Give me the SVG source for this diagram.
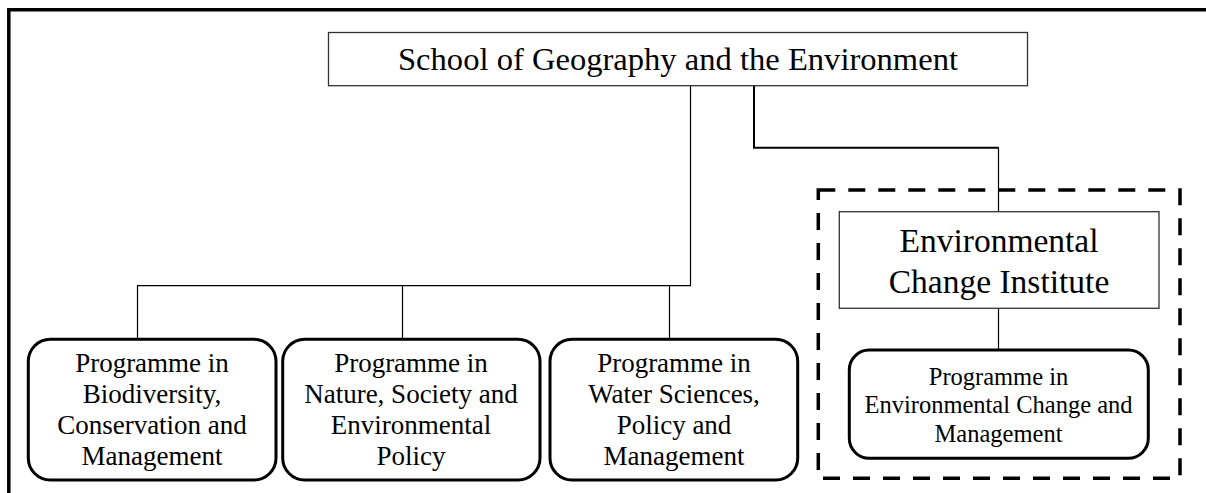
<svg xmlns="http://www.w3.org/2000/svg" width="1206" height="493" viewBox="0 0 1206 493">
<style>
text{font-family:"Liberation Serif","Times New Roman",serif;fill:#000;text-anchor:middle}
.sq{fill:#fff;stroke:#333;stroke-width:1.3}
.rd{fill:#fff;stroke:#000;stroke-width:3}
.ln{fill:none;stroke:#000;stroke-width:1.2}
.prog{font-size:27px}
</style>
<rect width="1206" height="493" fill="#fff"/>
<path d="M8.8 493V9.7H1206" fill="none" stroke="#000" stroke-width="3.5"/>
<g id="connectors">
<path class="ln" d="M690.5 86V285.7H137.5V339M402.5 285.7V339M669.5 285.7V339"/>
<path fill="none" stroke="#000" stroke-width="2" d="M754 86V147.7H998.7"/>
<path class="ln" d="M998.5 147.7V211.7M998.5 308.3V350"/>
</g>
<g id="eci-group">
<rect x="818.3" y="190" width="361.7" height="288.3" fill="none" stroke="#000" stroke-width="3.5" stroke-dasharray="17 13"/>
</g>
<g id="school">
<rect class="sq" x="328.5" y="32.5" width="699" height="53.2"/>
<text x="678" y="70" font-size="32.5" textLength="560" lengthAdjust="spacingAndGlyphs">School of Geography and the Environment</text>
</g>
<g id="eci">
<rect class="sq" x="839.3" y="211.7" width="319.7" height="96.6"/>
<text x="999" y="251.7" font-size="33.5">Environmental</text>
<text x="999" y="292.7" font-size="33.5">Change Institute</text>
</g>
<g id="p1">
<rect class="rd" x="28.3" y="339.3" width="247.7" height="140.7" rx="22"/>
<text class="prog" x="152" y="371.5">Programme in</text>
<text class="prog" x="152" y="402.5">Biodiversity,</text>
<text class="prog" x="152" y="434">Conservation and</text>
<text class="prog" x="152" y="465">Management</text>
</g>
<g id="p2">
<rect class="rd" x="282.7" y="339.3" width="257.3" height="140.7" rx="22"/>
<text class="prog" x="411" y="371.5">Programme in</text>
<text class="prog" x="411" y="402.5">Nature, Society and</text>
<text class="prog" x="411" y="434">Environmental</text>
<text class="prog" x="411" y="465">Policy</text>
</g>
<g id="p3">
<rect class="rd" x="550" y="339.3" width="247.7" height="140.7" rx="22"/>
<text class="prog" x="674" y="371.5">Programme in</text>
<text class="prog" x="674" y="402.5">Water Sciences,</text>
<text class="prog" x="674" y="434">Policy and</text>
<text class="prog" x="674" y="465">Management</text>
</g>
<g id="p4">
<rect class="rd" x="849.3" y="350" width="299" height="108.3" rx="20"/>
<text x="998.5" y="385" font-size="24.5">Programme in</text>
<text x="998.5" y="413.3" font-size="24.5">Environmental Change and</text>
<text x="998.5" y="441.7" font-size="24.5">Management</text>
</g>
</svg>
